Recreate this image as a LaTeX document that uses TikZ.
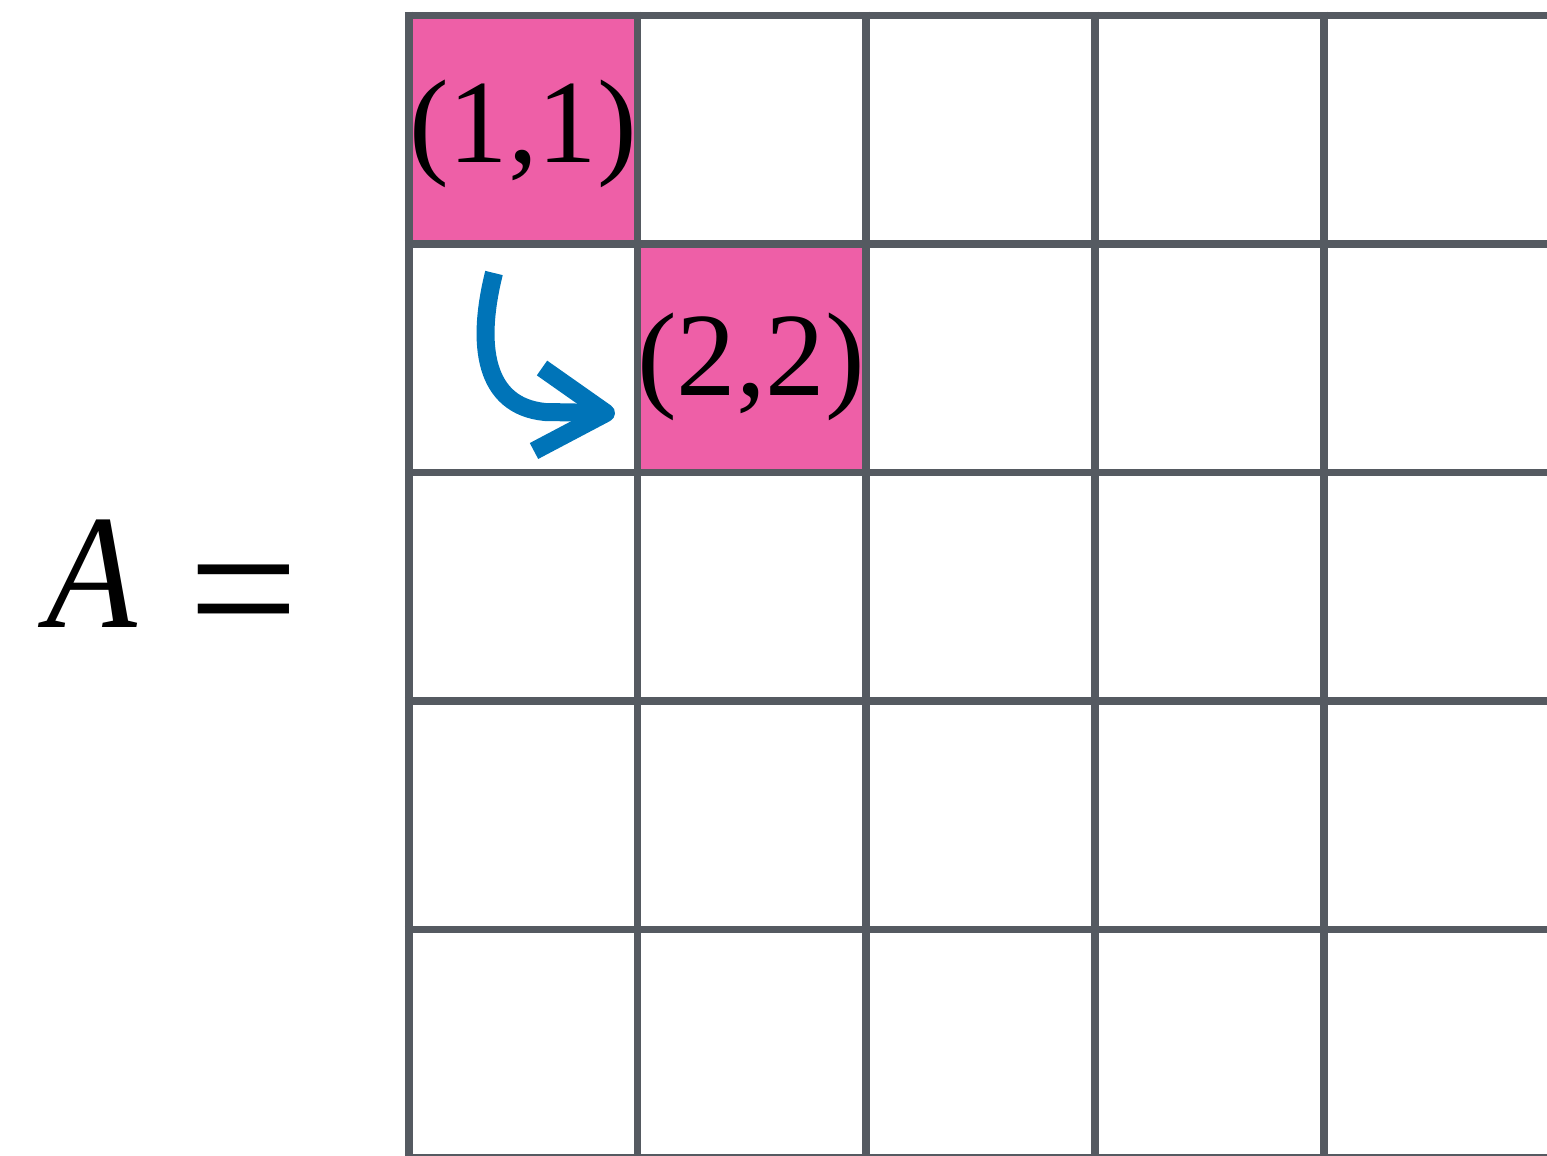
\documentclass[tikz,border=0pt]{standalone}
\usepackage{fontspec}
\usepackage{graphicx}
\setmainfont{Liberation Serif}
\definecolor{gridgray}{HTML}{555A61}
\definecolor{cellpink}{HTML}{EE5FA7}
\definecolor{arrowblue}{HTML}{0074B8}
\tikzset{
  gridline/.style={draw=gridgray, line width=7.7pt},
  hicell/.style={fill=cellpink},
  celltext/.style={font=\fontsize{119}{130}\selectfont, inner sep=0pt, anchor=base},
  bigtext/.style={font=\fontsize{163}{180}\selectfont, inner sep=0pt, anchor=base},
  arrowline/.style={draw=arrowblue, line width=18pt},
}
\begin{document}
\begin{tikzpicture}[x=1pt, y=-1pt]
\useasboundingbox (0,0) rectangle (1547,1156);
\clip (0,0) rectangle (1547,1156);

% highlighted diagonal cells
\fill[hicell] (408.8,15.5) rectangle (637.5,244);
\fill[hicell] (637.5,244) rectangle (866.2,472.5);

% grid lines
\foreach \i in {0,...,4}
  \draw[gridline] (408.8+\i*228.75, 11.65) -- (408.8+\i*228.75, 1170);
\foreach \j in {0,...,5}
  \draw[gridline] (404.95, 15.5+\j*228.5) -- (1560, 15.5+\j*228.5);

% entry labels
\node[celltext] (c11) at (523,162) {(1,1)};
\node[celltext] (c22) at (751,395) {(2,2)};

% left-hand side
\node[bigtext, anchor=base west, font=\fontsize{163}{180}\selectfont\itshape] (Alabel) at (46,627) {\scalebox{0.91}[1]{A}};
\node[bigtext, anchor=base west, font=\fontsize{196}{200}\selectfont] (eqsign) at (188,654) {=};

% step arrow from (1,1) down to (2,2)
\coordinate (arrStart) at (494,273);
\coordinate (arrBend) at (545,412);
\coordinate (arrTip) at (606,413);
\coordinate (barbUp) at (542,368);
\coordinate (barbDown) at (534,451);
\draw[arrowline] (arrStart) .. controls (476,345) and (484,406) .. (arrBend) -- (arrTip);
\draw[arrowline, line join=round] (barbUp) -- (arrTip) -- (barbDown);
\end{tikzpicture}
\end{document}
